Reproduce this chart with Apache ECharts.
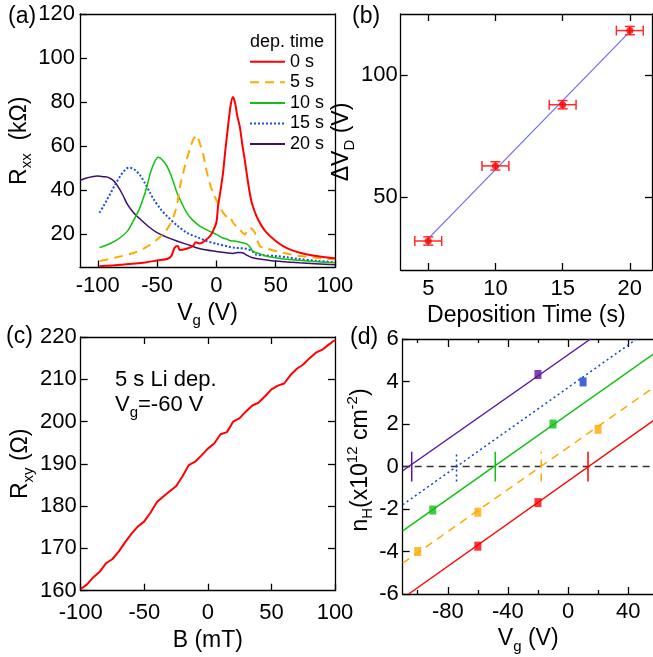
<!DOCTYPE html>
<html><head><meta charset="utf-8">
<script src="https://cdn.jsdelivr.net/npm/echarts@6.0.0/dist/echarts.min.js"></script>
<style>html,body{margin:0;padding:0;background:#fff}#c{width:653px;height:657px}</style>
</head><body><div id="c"></div>
<script>
// ---------- Panel (a): Rxx vs Vg ----------
const vg0  = [-98.6,-80,-60,-50,-41,-38,-35.2,-32.4,-31,-25.4,-19.8,-17.5,-14.1,-8.5,-5,-2.9,0,1.4,3.5,5.6,7.5,9.8,12,14,16,17.5,19.7,21.8,23.9,26,28.1,30,33.8,38,42.3,50,56.3,63,70.4,80,90,100];
const rxx0 = [5.6,6.3,7.3,8.2,9.0,10.2,14.0,14.7,12.9,13.5,14.7,16.5,15.9,17.7,19.5,21.5,25.5,32.8,40,47.9,58,69,78.5,82.3,79,74,69,61,53.9,46,38.9,34,28.3,24,20.8,17,14.7,13,11.7,10.6,9.8,9.2];
const vg5  = [-98.6,-85,-69.4,-60,-50,-41.7,-36,-33,-30.6,-28,-25,-22,-19.4,-16.7,-14.1,-11,-8.5,-5.5,-2.9,1,4.2,8.5,11,14,19.7,23.9,26,28.1,30,32.4,36.6,40,50.7,60,70.4,85,100];
const rxx5 = [7.9,9.5,11.7,14,17.7,22.3,28.3,34,42,48,54,59.5,63.2,65,61.5,56,49.4,43,38.9,34.5,31.3,28.3,28.5,25.3,22.3,20,21.8,23,22.5,20.8,14.7,14,12.4,11.2,10.2,9.4,8.6];
const vg10  = [-98.6,-90,-83.3,-75,-69.4,-65,-61,-58,-55.6,-52,-49,-46,-41.7,-37,-33.3,-29,-25,-20,-13.9,-6,0,5,10,11,15,20,25,28,30.6,35,41.7,55,69,85,100];
const rxx10 = [14,15.8,17.7,21.5,26.8,31.5,37.4,43,48,53,55,54,51,45,39,34,29.8,26.5,23.8,21.5,20,18.5,17.6,17.2,17,16.5,15.8,14.5,12.4,11.5,10.2,9,8.3,7.6,7.1];
const vg15  = [-98.6,-95,-92,-88.9,-85,-81,-77.8,-74,-71,-68,-63.9,-60,-56,-52.8,-47,-41.7,-33,-25,-15,-8.3,0,10,15,20,25,30,33.3,40,50,60,69,85,100];
const rxx15 = [29.8,33,36,39,43,46.5,48.8,50.3,50,49,46.5,43,39,35.9,31.5,28.3,24,20.8,18.5,17,15.8,14.5,14,13.8,13.5,12.5,10.9,10.5,10.2,9.6,8.9,8,7.4];
const vg20  = [-115,-110,-105,-100,-95,-91.7,-87,-83.3,-79,-75,-70,-63.9,-57,-50,-42,-33.3,-25,-13.9,0,13.9,18,22,26,30.6,40,50,70,100];
const rxx20 = [44.5,45.5,46.2,46.5,46.2,46,44.5,42,38,33.6,30,26.8,23.5,20.8,18.8,17,15.5,13.5,12.3,11.4,11.8,11.7,10.5,9.4,8.6,7.9,7.1,6.3];
const depLabels = ['0 s','5 s','10 s','15 s','20 s'];
const ticksAX = [-100,-50,0,50,100];
const ticksAY = [20,40,60,80,100,120];

// ---------- Panel (b): Delta V_D vs deposition time ----------
const depTime = [5,10,15,20];
const deltaVD = [31.9,62.7,87.8,118.2];
const timeErr = [1,1,1,1];
const vdErr   = [1.7,1.7,1.7,1.7];
const fitTime = [5,20];
const fitVD   = [32.9,117.8];
const ticksBX = [5,10,15,20];
const ticksBY = [50,100];

// ---------- Panel (c): Rxy vs B ----------
const bField = [-100,-95,-90,-85,-80,-75,-70,-65,-60,-55,-50,-45,-40,-35,-30,-25,-20,-15,-10,-5,0,5,10,15,20,25,30,35,40,45,50,55,60,65,70,75,80,85,90,95,100];
const rxy = [160.4,161.5,163.2,164.5,166.5,167.5,169.3,171.5,173.5,175.2,176.4,178.5,181,182.3,183.5,184.7,187,189.7,190.5,192,193.6,194.8,197,197.5,200,200.8,202.4,203.8,204.5,206,207.6,208.5,209,211,212.5,213.5,215,216.3,217,218.2,219.3];
const ticksCX = [-100,-50,0,50,100];
const ticksCY = [160,170,180,190,200,210,220];

// ---------- Panel (d): n_H vs Vg ----------
const hallVg0 = [-60,-20],        hallN0 = [-3.75,-1.7];
const hallVg5 = [-100,-60,20],    hallN5 = [-4.0,-2.15,1.75];
const hallVg10 = [-90,-10],       hallN10 = [-2.05,2.0];
const hallVg15 = [10],            hallN15 = [3.98];
const hallVg20 = [-20],           hallN20 = [4.33];
const fitVg0 = [-106,57],  fitN0 = [-6,2.17];
const fitVg5 = [-110,57],  fitN5 = [-4.55,3.72];
const fitVg10 = [-110,57], fitN10 = [-3.03,5.3];
const fitVg15 = [-110,45.7], fitN15 = [-1.8,6];
const fitVg20 = [-110,15], fitN20 = [-0.2,6];
const diracVg = [13.3,-17.8,-48.4,-74.2,-104];
const diracBar = [-0.7,0.7];
const zeroVg = [-110,57], zeroN = [0,0];
const ticksDX = [-80,-40,0,40];
const minorDX = [-100,-60,-20,20];
const ticksDY = [-6,-4,-2,0,2,4,6];

// ---------- helpers ----------
const FONT = '"Liberation Sans", Arial, Helvetica, sans-serif';
const BLACK = '#000';
const zip = (xs, ys) => xs.map((x, i) => [x, ys[i]]);
const rich = (fs) => ({
  m: {fontSize: fs, fontFamily: FONT, color: BLACK, lineHeight: 30},
  s: {fontSize: 15, fontFamily: FONT, color: BLACK, lineHeight: 14, verticalAlign: 'bottom'},
  u: {fontSize: 15, fontFamily: FONT, color: BLACK, lineHeight: 14, verticalAlign: 'top'}
});
const AL = {color: BLACK, width: 1.3};
function xMain(gi, min, max, ticks, name, nameGap, margin) {
  return {type: 'value', gridIndex: gi, position: 'bottom', min, max,
    axisLine: {show: true, onZero: false, lineStyle: AL},
    axisTick: {show: true, inside: true, length: 7, customValues: ticks, lineStyle: AL},
    axisLabel: {show: true, customValues: ticks, margin, fontSize: 22, lineHeight: 22, fontFamily: FONT, color: BLACK},
    splitLine: {show: false},
    name, nameLocation: 'middle', nameGap,
    nameTextStyle: {fontSize: 23, fontFamily: FONT, color: BLACK, lineHeight: 30, rich: rich(23)}};
}
function yMain(gi, min, max, ticks, name, nameGap, margin, pad) {
  return {type: 'value', gridIndex: gi, position: 'left', min, max,
    axisLine: {show: true, onZero: false, lineStyle: AL},
    axisTick: {show: true, inside: true, length: 7, customValues: ticks, lineStyle: AL},
    axisLabel: {show: true, customValues: ticks, margin, fontSize: 22, lineHeight: 22, fontFamily: FONT, color: BLACK},
    splitLine: {show: false},
    name, nameLocation: 'middle', nameGap, nameRotate: 90,
    nameTextStyle: {fontSize: 23, fontFamily: FONT, color: BLACK, lineHeight: 30, padding: pad || 0, rich: rich(23)}};
}
function mirror(kind, gi, pos, min, max, ticks, len, showLine) {
  return {type: 'value', gridIndex: gi, position: pos, min, max,
    axisLine: {show: showLine, onZero: false, lineStyle: AL},
    axisTick: {show: !!ticks, inside: true, length: len, customValues: ticks || [], lineStyle: AL},
    axisLabel: {show: false}, splitLine: {show: false}};
}

const xAxes = [
  xMain(0, -115, 100, ticksAX, '{m|V}{s|g}{m| (V)}', 28.5, 7.8),           //0
  mirror('x', 0, 'top', -115, 100, null, 0, true),                          //1
  xMain(1, 2.95, 21.65, ticksBX, 'Deposition Time (s)', 28.5, 7.8),        //2
  mirror('x', 1, 'top', 2.95, 21.65, ticksBX, 7, true),                     //3
  xMain(2, -100, 100, ticksCX, 'B (mT)', 29.3, 11.6),                       //4
  mirror('x', 2, 'top', -100, 100, [-50,0,50], 7, true),                    //5
  xMain(3, -110, 57, ticksDX, '{m|V}{s|g}{m| (V)}', 27, 7.2),               //6
  mirror('x', 3, 'top', -110, 57, ticksDX, 8, true),                        //7
  mirror('x', 3, 'bottom', -110, 57, minorDX, 4, false),                    //8
  mirror('x', 3, 'top', -110, 57, minorDX, 4, false)                        //9
];
const yAxes = [
  yMain(0, 5, 120, ticksAY, '{m|R}{s|xx}{m|  (kΩ)}', 42, 5),               //0
  mirror('y', 0, 'right', 5, 120, [20,40], 7, true),                        //1
  yMain(1, 20, 125, ticksBY, '{m|ΔV}{s|D}{m| (V)}', 24.7, 3),               //2
  mirror('y', 1, 'right', 20, 125, ticksBY, 7, true),                       //3
  yMain(2, 160, 220, ticksCY, '{m|R}{s|xy}{m| (Ω)}', 40.7, 4),             //4
  mirror('y', 2, 'right', 160, 220, [170,180,190,200,210], 7, true),        //5
  yMain(3, -6, 6, ticksDY, '{m|n}{s|H}{m|(x10}{u|12}{m| cm}{u|-2}{m|)}', 17.7, 4, [0,0,0,13]) //6
];

const cA = {'0 s': '#ff0000', '5 s': '#ffaa00', '10 s': '#11c011', '15 s': '#1a4fe0', '20 s': '#3b0f6b'};
const cD = ['#ff0000', '#ffaa00', '#11c011', '#1040d0', '#5a14a0'];
const dashD = ['solid', [8,6], 'solid', [2,3], 'solid'];

function lineA(name, xs, ys, width, type) {
  return {type: 'line', name, xAxisIndex: 0, yAxisIndex: 0, data: zip(xs, ys), symbol: 'none', smooth: 0.3,
    lineStyle: {color: cA[name], width, type}, itemStyle: {color: cA[name]}, clip: true, z: 3};
}
const series = [
  lineA('20 s', vg20, rxx20, 1.5, 'solid'),
  lineA('15 s', vg15, rxx15, 2, [2,2]),
  lineA('10 s', vg10, rxx10, 1.5, 'solid'),
  lineA('5 s', vg5, rxx5, 2, [9,6]),
  lineA('0 s', vg0, rxx0, 2, 'solid'),
  // (b)
  {type: 'line', xAxisIndex: 2, yAxisIndex: 2, data: zip(fitTime, fitVD), symbol: 'none',
   lineStyle: {color: '#6a6aff', width: 1.2}, z: 2},
  {type: 'custom', xAxisIndex: 2, yAxisIndex: 2, z: 3,
   data: depTime.map((t, i) => [t, deltaVD[i], timeErr[i], vdErr[i]]),
   renderItem: function (params, api) {
     const x = api.value(0), y = api.value(1), ex = api.value(2), ey = api.value(3);
     const l = api.coord([x - ex, y]), r = api.coord([x + ex, y]);
     const t = api.coord([x, y + ey]), b = api.coord([x, y - ey]);
     const st = {stroke: '#ff2a2a', lineWidth: 1.5, fill: null};
     const L = (x1, y1, x2, y2) => ({type: 'line', shape: {x1, y1, x2, y2}, style: st});
     return {type: 'group', children: [
       L(l[0], l[1], r[0], r[1]), L(l[0], l[1] - 5, l[0], l[1] + 5), L(r[0], r[1] - 5, r[0], r[1] + 5),
       L(t[0], t[1], b[0], b[1]), L(t[0] - 5, t[1], t[0] + 5, t[1]), L(b[0] - 5, b[1], b[0] + 5, b[1])
     ]};
   }},
  {type: 'scatter', xAxisIndex: 2, yAxisIndex: 2, data: zip(depTime, deltaVD), symbol: 'circle', symbolSize: 7,
   itemStyle: {color: '#ff0000'}, z: 4},
  // (c)
  {type: 'line', xAxisIndex: 4, yAxisIndex: 4, data: zip(bField, rxy), symbol: 'none',
   lineStyle: {color: '#ff0000', width: 2}, z: 3},
  // (d) zero line
  {type: 'line', xAxisIndex: 6, yAxisIndex: 6, data: zip(zeroVg, zeroN), symbol: 'none',
   lineStyle: {color: '#333', width: 1.5, type: [7,5]}, z: 2}
];
const fitsD = [[fitVg0, fitN0], [fitVg5, fitN5], [fitVg10, fitN10], [fitVg15, fitN15], [fitVg20, fitN20]];
const hallD = [[hallVg0, hallN0], [hallVg5, hallN5], [hallVg10, hallN10], [hallVg15, hallN15], [hallVg20, hallN20]];
fitsD.forEach((f, i) => {
  series.push({type: 'line', xAxisIndex: 6, yAxisIndex: 6, data: zip(f[0], f[1]), symbol: 'none', clip: true,
    lineStyle: {color: cD[i], width: 1.5, type: dashD[i]}, z: 3});
  series.push({type: 'line', xAxisIndex: 6, yAxisIndex: 6, data: zip([diracVg[i], diracVg[i]], diracBar), symbol: 'none',
    lineStyle: {color: cD[i], width: 1.5, type: dashD[i]}, z: 3});
  series.push({type: 'scatter', xAxisIndex: 6, yAxisIndex: 6, data: zip(hallD[i][0], hallD[i][1]), symbol: 'rect',
    symbolSize: [7, 9], itemStyle: {color: cD[i]}, z: 4});
});

const txt = (x, y, text, fs, extra) => ({type: 'text', x, y, z: 10,
  style: Object.assign({text, fontSize: fs, fontFamily: FONT, fill: BLACK, verticalAlign: 'middle'}, extra || {})});

const option = {
  animation: false,
  backgroundColor: '#fff',
  grid: [
    {left: 80, top: 14, width: 255, height: 253.5, containLabel: false, outerBoundsMode: 'none'},
    {left: 400.7, top: 14, width: 251.3, height: 256, containLabel: false, outerBoundsMode: 'none'},
    {left: 80.7, top: 337, width: 254.3, height: 253.7, containLabel: false, outerBoundsMode: 'none'},
    {left: 402.7, top: 339, width: 251, height: 255, containLabel: false, outerBoundsMode: 'none'}
  ],
  xAxis: xAxes,
  yAxis: yAxes,
  legend: {data: depLabels, orient: 'vertical', left: 249, top: 51.7, itemWidth: 35, itemHeight: 12, itemGap: 0.6,
    padding: 0, backgroundColor: '#fff', selectedMode: false,
    itemStyle: {opacity: 0, borderWidth: 0},
    textStyle: {fontSize: 18, fontFamily: FONT, color: BLACK, lineHeight: 20}},
  graphic: [
    txt(8, 17, '(a)', 23),
    txt(352, 17, '(b)', 23),
    txt(6, 337, '(c)', 23),
    txt(350, 338, '(d)', 23),
    txt(250, 42, 'dep. time', 18),
    txt(115, 380, '5 s Li dep.', 22),
    txt(115, 405, '{m|V}{s|g}{m|=-60 V}', 22, {rich: {
      m: {fontSize: 22, fontFamily: FONT, fill: BLACK, lineHeight: 30},
      s: {fontSize: 15, fontFamily: FONT, fill: BLACK, lineHeight: 14, verticalAlign: 'bottom'}}})
  ],
  series
};
const chart = echarts.init(document.getElementById('c'), null, {renderer: 'canvas'});
chart.setOption(option);
</script></body></html>
